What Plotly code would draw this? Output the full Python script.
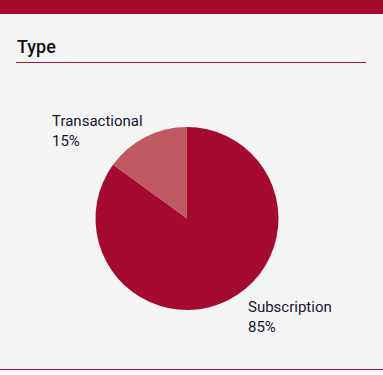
import plotly.graph_objects as go

labels = ["Transactional", "Subscription"]
values = [15, 85]
colors = ["#BF5A60", "#A50A31"]
title_text = "Type"

W, H = 383, 375
def py(px):
    return 1 - px / H
def px_(x):
    return x / W

total = sum(values)
pct = [round(v * 100 / total) for v in values]

fig = go.Figure(go.Pie(
    labels=labels, values=values, sort=False, direction="clockwise",
    rotation=-360 * values[0] / total, marker=dict(colors=colors, line=dict(width=0)),
    textinfo="none", hoverinfo="label+percent", showlegend=False,
    domain=dict(x=[px_(95), px_(279)], y=[py(310), py(127)]),
))

label_pos = [(50, 110), (246, 296)]
annotations = [dict(text=title_text, x=px_(15), y=py(34), xref="paper", yref="paper",
                    xanchor="left", yanchor="top", showarrow=False,
                    font=dict(family="Roboto", size=18, color="#111111", weight=500))]
for (lx, ly), lab, p in zip(label_pos, labels, pct):
    annotations.append(dict(text=f"{lab}<br>{p}%", x=px_(lx), y=py(ly), xref="paper", yref="paper",
                            xanchor="left", yanchor="top", align="left", showarrow=False,
                            font=dict(family="Roboto", size=15, color="#161630")))

shapes = [
    dict(type="rect", xref="paper", yref="paper", x0=0, x1=1, y0=py(14), y1=1,
         fillcolor="#A50A31", line=dict(width=0), layer="below"),
    dict(type="line", xref="paper", yref="paper", x0=px_(16), x1=px_(366), y0=py(62.5), y1=py(62.5),
         line=dict(color="#B5123A", width=1)),
    dict(type="rect", xref="paper", yref="paper", x0=0, x1=1, y0=0, y1=py(370),
         fillcolor="#FFFFFF", line=dict(width=0), layer="below"),
    dict(type="line", xref="paper", yref="paper", x0=0, x1=1, y0=py(369.5), y1=py(369.5),
         line=dict(color="#B5123A", width=1)),
]

fig.update_layout(width=W, height=H, margin=dict(l=0, r=0, t=0, b=0),
                  paper_bgcolor="#F5F5F5", plot_bgcolor="#F5F5F5",
                  annotations=annotations, shapes=shapes)
fig.write_html("out.html", config={"displayModeBar": False},
               post_script="document.body.style.margin='0';document.body.style.overflow='hidden';")
